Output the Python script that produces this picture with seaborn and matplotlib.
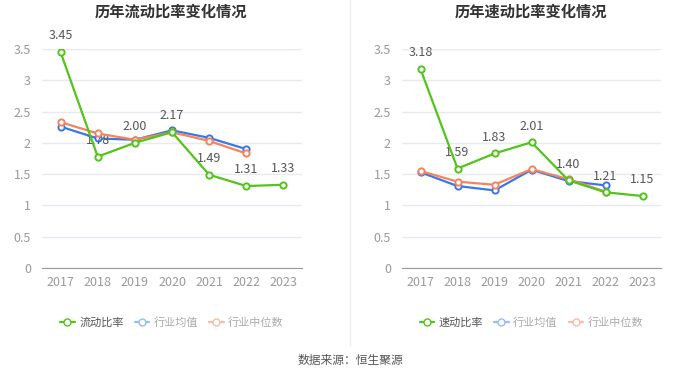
import seaborn as sns
import matplotlib.pyplot as plt
import pandas as pd
from matplotlib.lines import Line2D

# data
years = ['2017', '2018', '2019', '2020', '2021', '2022', '2023']
current_ratio = [3.45, 1.78, 2.00, 2.17, 1.49, 1.31, 1.33]
current_avg = [2.26, 2.07, 2.05, 2.20, 2.08, 1.90]
current_median = [2.33, 2.15, 2.05, 2.17, 2.03, 1.83]
quick_ratio = [3.18, 1.59, 1.83, 2.01, 1.40, 1.21, 1.15]
quick_avg = [1.53, 1.31, 1.24, 1.57, 1.39, 1.32]
quick_median = [1.55, 1.38, 1.33, 1.58, 1.42, 1.22]

titles = ['历年流动比率变化情况', '历年速动比率变化情况']
main_names = ['流动比率', '速动比率']

sns.set_style('white')
plt.rcParams['font.family'] = ['Noto Sans CJK SC', 'DejaVu Sans']

GREEN = '#52c41a'
BLUE = '#3b78e7'
ORANGE = '#f5845c'

fig = plt.figure(figsize=(7, 3.77), dpi=100)
ax1 = fig.add_axes([42 / 700, 1 - 268 / 377, 260 / 700, 219 / 377])
ax2 = fig.add_axes([402 / 700, 1 - 268 / 377, 259 / 700, 219 / 377])

panels = [(ax1, current_ratio, current_avg, current_median),
          (ax2, quick_ratio, quick_avg, quick_median)]

for i, (ax, main, avg, med) in enumerate(panels):
    ax.set_axisbelow(True)
    ax.yaxis.grid(True, color='#e6eaf2', linewidth=1)
    for vals, col, z in [(avg, BLUE, 3), (med, ORANGE, 4), (main, GREEN, 5)]:
        df = pd.DataFrame({'x': list(range(len(vals))), 'y': vals})
        sns.lineplot(data=df, x='x', y='y', ax=ax, color=col, linewidth=1.6,
                     marker='o', markersize=4.5, markerfacecolor='white',
                     markeredgecolor=col, markeredgewidth=1.4, zorder=z)
    for xi, v in enumerate(main):
        ax.annotate(f'{v:.2f}', (xi, v), xytext=(0, 7), textcoords='offset points',
                    ha='center', va='bottom', fontsize=9, color='#555555')
    ax.set_xlim(-0.5, 6.5)
    ax.set_ylim(0, 3.5)
    ax.set_yticks([0, 0.5, 1, 1.5, 2, 2.5, 3, 3.5])
    ax.set_yticklabels(['0', '0.5', '1', '1.5', '2', '2.5', '3', '3.5'])
    ax.set_xticks(range(7))
    ax.set_xticklabels(years)
    ax.tick_params(axis='both', colors='#999999', labelsize=9, length=0)
    ax.tick_params(axis='x', pad=6)
    ax.tick_params(axis='y', pad=8)
    ax.set_xlabel('')
    ax.set_ylabel('')
    for s in ['top', 'right', 'left']:
        ax.spines[s].set_visible(False)
    ax.spines['bottom'].set_color('#999999')

    handles = [
        Line2D([], [], color=GREEN, marker='o', markerfacecolor='white', markersize=5, linewidth=1.6),
        Line2D([], [], color='#9bbcf4', marker='o', markerfacecolor='white', markersize=5, linewidth=1.6),
        Line2D([], [], color='#f8bca6', marker='o', markerfacecolor='white', markersize=5, linewidth=1.6),
    ]
    leg = ax.legend(handles, [main_names[i], '行业均值', '行业中位数'], ncol=3, frameon=False,
                    loc='center', bbox_to_anchor=(0.5, -0.247), fontsize=8,
                    handlelength=1.3, handletextpad=0.4, columnspacing=1.0)
    for t, c in zip(leg.get_texts(), ['#555555', '#aaaaaa', '#aaaaaa']):
        t.set_color(c)

# titles centered over each panel
fig.text(171 / 700, 1 - 12 / 377, titles[0], ha='center', va='center', fontsize=11,
         fontweight='bold', color='#333333')
fig.text(531 / 700, 1 - 12 / 377, titles[1], ha='center', va='center', fontsize=11,
         fontweight='bold', color='#333333')

# divider between panels
fig.add_artist(Line2D([350 / 700, 350 / 700], [1 - 345 / 377, 1.0], color='#eeeeee', linewidth=1))

fig.text(0.5, 1 - 360 / 377, '数据来源：恒生聚源', ha='center', va='center', fontsize=8.5, color='#555555')

plt.savefig('out.png', dpi=100)
